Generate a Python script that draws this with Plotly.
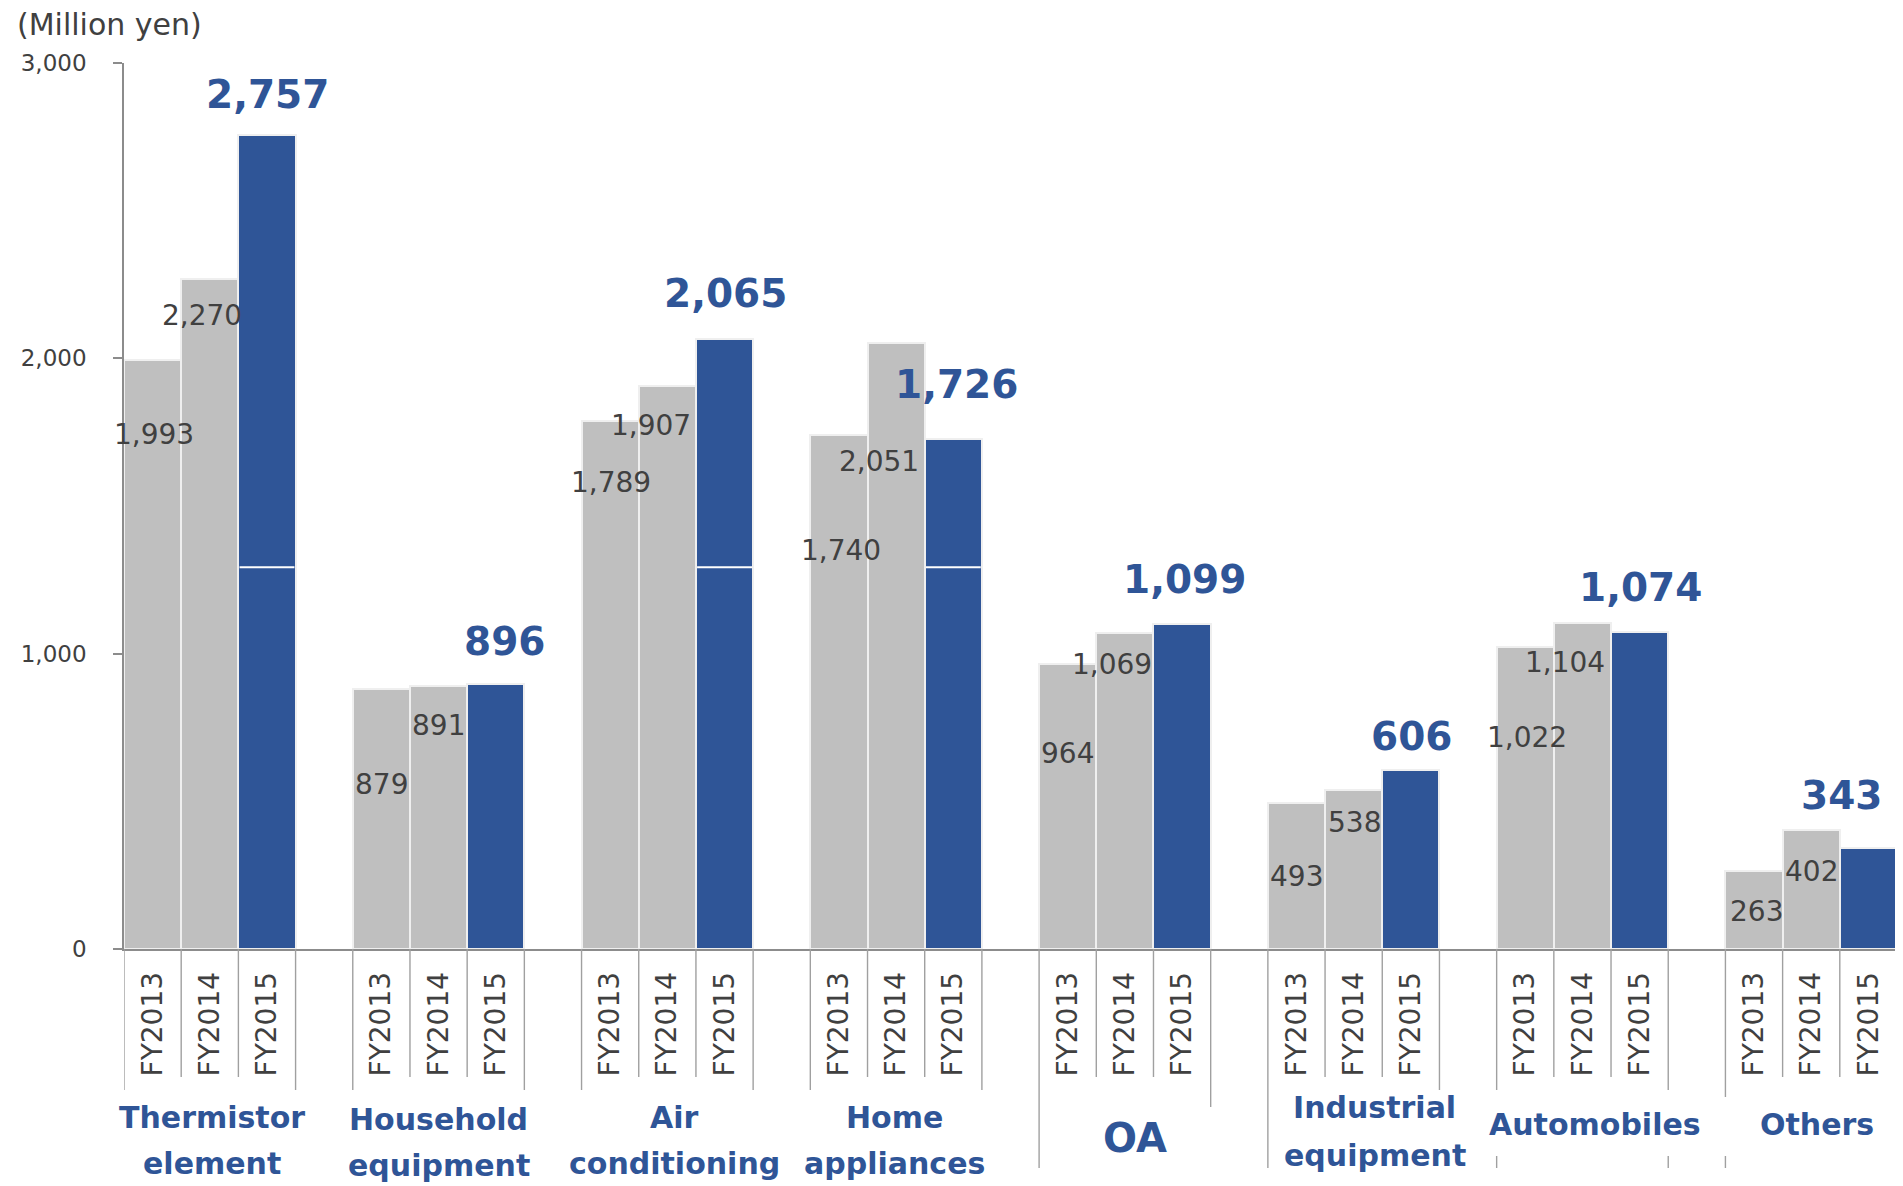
import plotly.graph_objects as go

# ---------------- data ----------------
CATEGORIES = ["Thermistor element", "Household equipment", "Air conditioning",
              "Home appliances", "OA", "Industrial equipment", "Automobiles", "Others"]
CATEGORY_LINES = [["Thermistor", "element"], ["Household", "equipment"],
                  ["Air", "conditioning"], ["Home", "appliances"], ["OA"],
                  ["Industrial", "equipment"], ["Automobiles"], ["Others"]]
YEARS = ["FY2013", "FY2014", "FY2015"]
FY2013 = [1993, 879, 1789, 1740, 964, 493, 1022, 263]
FY2014 = [2270, 891, 1907, 2051, 1069, 538, 1104, 402]
FY2015 = [2757, 896, 2065, 1726, 1099, 606, 1074, 343]
Y_TICKS = [0, 1000, 2000, 3000]
UNIT_LABEL = "(Million yen)"

# ---------------- style ----------------
PAGE_W, PAGE_H = 1903, 1186
BODY = 8                       # browser body margin
W, H = PAGE_W - BODY, PAGE_H - BODY
AX_X, AX_Y0, AX_Y1, AX_XR = 124, 949, 63, 1897   # absolute page pixels of plot area
ML = AX_X - BODY
MT = AX_Y1 - BODY
MR = W - ML - (AX_XR - AX_X)
PLOT_H = AX_Y0 - AX_Y1
MB = H - MT - PLOT_H
PLOT_W = AX_XR - AX_X

GRAY = "#BFBFBF"
BLUE = "#2F5597"
TEXT = "#404040"
AXIS = "#8C8C8C"
SEP = "#A0A0A0"
FONT = "DejaVu Sans"
SPLIT_LINE_VALUE = 1293   # thin white line seen across tall blue bars

# label offsets in pixels: (dx, distance below bar top)
SHIFT13 = [(1, 74), (0, 95), (1, 62), (2, 115), (0, 89), (0, 73), (2, 90), (2, 40)]
SHIFT14 = [(-8, 37), (0, 40), (-16, 40), (-17, 118), (-13, 31), (1, 32), (-17, 40), (0, 41)]
SHIFT15 = [(1, -40), (9, -43), (1, -46), (3, -55), (2, -45), (1, -34), (1, -44), (-27, -52)]

# category label line centers (absolute px from top) and x shifts
CAT_Y = [[1117, 1163], [1119, 1165], [1117, 1163], [1117, 1163], [1138],
         [1107, 1155], [1124], [1124]]
CAT_DX = [2, 0, 7, -2, 10, 21, 13, 6]
CAT_SIZE = [30, 30, 30, 30, 40, 30, 30, 30]


def py(px):
    """absolute page pixel row -> paper y"""
    return (AX_Y0 - px) / PLOT_H


n = len(CATEGORIES)
series = [FY2013, FY2014, FY2015]
colors = [GRAY, GRAY, BLUE]
shifts = [SHIFT13, SHIFT14, SHIFT15]

fig = go.Figure()
tickvals, ticktext = [], []
for k, (yr, vals, col) in enumerate(zip(YEARS, series, colors)):
    xs = [4 * g + k for g in range(n)]
    tickvals += xs
    ticktext += [yr] * n
    fig.add_trace(go.Bar(
        x=xs, y=vals, name=yr, width=1,
        marker=dict(color=col, line=dict(color="#EFEFEF", width=2)),
        hoverinfo="x+y", showlegend=False))

annotations = []
for k, vals in enumerate(series):
    for g, v in enumerate(vals):
        dx, dy = shifts[k][g]
        blue = (k == 2)
        annotations.append(dict(
            x=4 * g + k, y=v, xref="x", yref="y", text=f"{v:,}",
            showarrow=False, xanchor="center", yanchor="middle",
            xshift=dx, yshift=-dy,
            font=dict(family=FONT, size=39 if blue else 28,
                      color=BLUE if blue else TEXT,
                      weight="bold" if blue else "normal")))

for g, lines in enumerate(CATEGORY_LINES):
    for li, line in enumerate(lines):
        annotations.append(dict(
            x=4 * g + 1, y=py(CAT_Y[g][li]), xref="x", yref="paper",
            text=line, showarrow=False, xanchor="center", yanchor="middle",
            xshift=CAT_DX[g],
            font=dict(family=FONT, size=CAT_SIZE[g], color=BLUE, weight="bold")))

annotations.append(dict(
    x=(15 - AX_X) / PLOT_W, y=py(25), xref="paper", yref="paper",
    text=UNIT_LABEL, showarrow=False, xanchor="left", yanchor="middle",
    font=dict(family=FONT, size=30, color=TEXT)))

shapes = []


def vline(xb, top_px, bot_px):
    shapes.append(dict(type="line", xref="x", yref="paper", x0=xb, x1=xb,
                       y0=py(top_px), y1=py(bot_px),
                       line=dict(color=SEP, width=1.4)))


for g in range(n):
    vline(4 * g + 0.5, AX_Y0, 1077)
    vline(4 * g + 1.5, AX_Y0, 1077)
    vline(4 * g - 0.5, AX_Y0, 1090)
    vline(4 * g + 2.5, AX_Y0, 1090)
# longer group separators in the label band
vline(4 * 4 - 0.5, 1090, 1168)
vline(4 * 5 - 0.5, 1090, 1168)
vline(4 * 4 + 2.5, 1090, 1107)
vline(4 * 7 - 0.5, 1090, 1097)
for xb in [4 * 6 - 0.5, 4 * 6 + 2.5, 4 * 7 - 0.5, 4 * 7 + 2.5]:
    vline(xb, 1156, 1168)

# white split line across tall blue bars
for g, v in enumerate(FY2015):
    if v > SPLIT_LINE_VALUE:
        shapes.append(dict(type="line", xref="x", yref="y",
                           x0=4 * g + 2 - 0.48, x1=4 * g + 2 + 0.48,
                           y0=SPLIT_LINE_VALUE, y1=SPLIT_LINE_VALUE,
                           line=dict(color="white", width=2)))

fig.update_layout(
    width=W, height=H,
    margin=dict(l=ML, r=MR, t=MT, b=MB, pad=0),
    paper_bgcolor="white", plot_bgcolor="white",
    barmode="overlay", bargap=0,
    annotations=annotations, shapes=shapes,
    font=dict(family=FONT, color=TEXT),
    xaxis=dict(range=[-0.5, 4 * n - 1.5], tickvals=tickvals, ticktext=ticktext,
               tickangle=-90, ticks="", showgrid=False, zeroline=False,
               showline=True, linecolor=AXIS, linewidth=1.6,
               tickfont=dict(family=FONT, size=28, color=TEXT),
               ticklabelstandoff=10),
    yaxis=dict(range=[0, 3000], tickvals=Y_TICKS, tickformat=",",
               ticks="outside", ticklen=9, tickcolor=AXIS, tickwidth=1.6,
               showline=True, linecolor=AXIS, linewidth=1.6,
               showgrid=False, zeroline=False,
               tickfont=dict(family=FONT, size=23, color=TEXT),
               ticklabelstandoff=22),
)

fig.write_html("out.html")
